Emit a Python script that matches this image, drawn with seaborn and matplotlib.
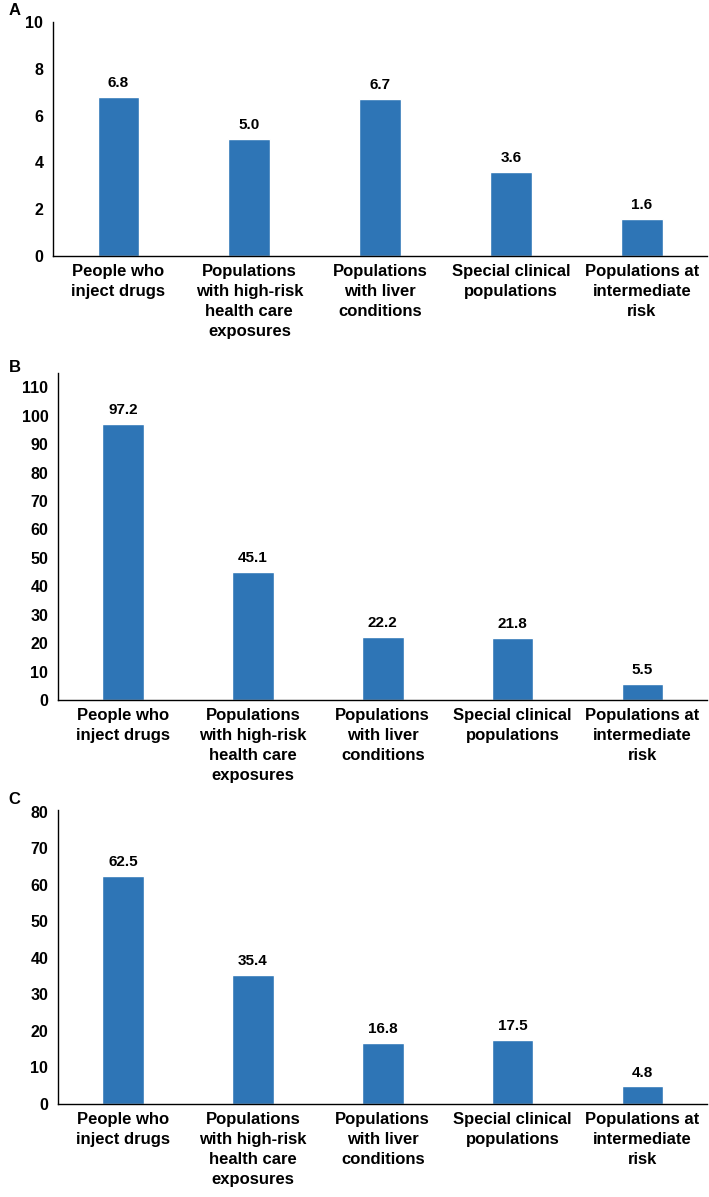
import numpy as np
import pandas as pd
import matplotlib.pyplot as plt
import seaborn as sns

sns.set_style("white")
plt.rcParams['font.family'] = ['Liberation Sans', 'DejaVu Sans']
plt.rcParams['text.color'] = 'black'
plt.rcParams['xtick.color'] = 'black'
plt.rcParams['ytick.color'] = 'black'

# Category labels shared by all three panels
categories = [
    "People who\ninject drugs",
    "Populations\nwith high-risk\nhealth care\nexposures",
    "Populations\nwith liver\nconditions",
    "Special clinical\npopulations",
    "Populations at\nintermediate\nrisk",
]

# Values per panel
values_a = [6.8, 5.0, 6.7, 3.6, 1.6]
values_b = [97.2, 45.1, 22.2, 21.8, 5.5]
values_c = [62.5, 35.4, 16.8, 17.5, 4.8]

panel_letters = ["A", "B", "C"]
yticks_a = [0, 2, 4, 6, 8, 10]
yticks_b = list(range(0, 111, 10))
yticks_c = list(range(0, 81, 10))

bar_color = "#2E75B6"

fig = plt.figure(figsize=(7.09, 11.97), dpi=100)

# axes rectangles: [left, bottom, width, height] in figure fraction
rects = [
    [0.0748, 0.7861, 0.9230, 0.1955],
    [0.0818, 0.4152, 0.9160, 0.2732],
    [0.0818, 0.0777, 0.9160, 0.2456],
]
all_values = [values_a, values_b, values_c]
all_ticks = [yticks_a, yticks_b, yticks_c]
ylims = [10, 115, 80.5]
letter_y = [0.9916, 0.6926, 0.3317]

for rect, vals, ticks, ytop, letter, ly in zip(rects, all_values, all_ticks, ylims, panel_letters, letter_y):
    ax = fig.add_axes(rect)
    ax.patch.set_alpha(0)
    df = pd.DataFrame({"category": categories, "value": vals})
    sns.barplot(data=df, x="category", y="value", color=bar_color,
                width=0.32, saturation=1, ax=ax)
    ax.set_xlim(-0.5, 4.5)
    ax.set_ylim(0, ytop)
    ax.set_yticks(ticks)
    ax.set_xlabel("")
    ax.set_ylabel("")
    for s in ["top", "right"]:
        ax.spines[s].set_visible(False)
    for s in ["left", "bottom"]:
        ax.spines[s].set_color("black")
        ax.spines[s].set_linewidth(1.0)
    ax.tick_params(axis="both", length=0)
    ax.tick_params(axis="y", pad=7, labelsize=11.5)
    ax.tick_params(axis="x", pad=6, labelsize=12)
    for lab in ax.get_yticklabels():
        lab.set_fontweight("bold")
    for lab in ax.get_xticklabels():
        lab.set_fontweight("bold")
        lab.set_linespacing(1.42)
    # value labels above bars
    for i, v in enumerate(vals):
        ax.annotate(f"{v:.1f}", (i, v), xytext=(0, 5), textcoords="offset points",
                    ha="center", va="bottom", fontsize=11, fontweight="bold")
    fig.text(0.012, ly, letter, fontsize=12, fontweight="bold", va="center", ha="left")

plt.savefig("out.png", dpi=100)
plt.close()
